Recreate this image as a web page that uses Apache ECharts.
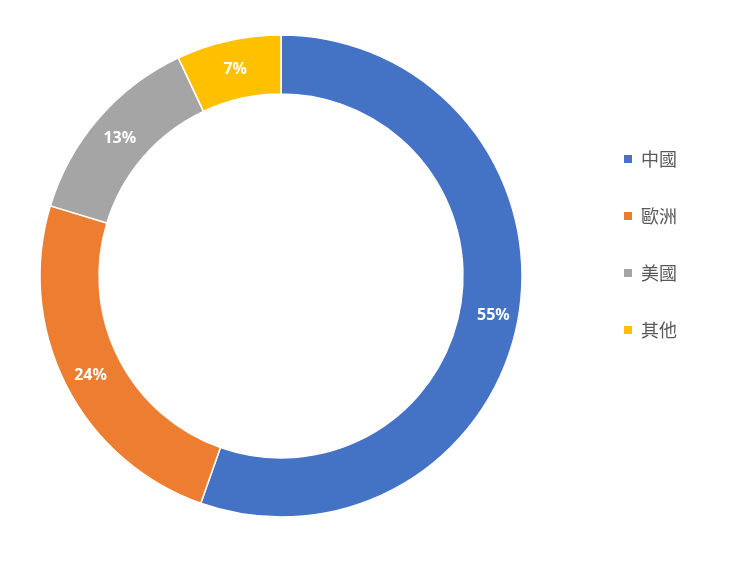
<!DOCTYPE html>
<html>
<head>
<meta charset="utf-8">
<style>
  html, body { margin: 0; padding: 0; background: #fff; }
  #chart { width: 742px; height: 567px; }
</style>
<script src="https://cdn.jsdelivr.net/npm/echarts@6/dist/echarts.min.js"></script>
</head>
<body>
<div id="chart"></div>
<script>
const regions = ['中國', '歐洲', '美國', '其他'];
const shares = [55.4, 24.3, 13.3, 7.0];
const colors = ['#4472C4', '#ED7D31', '#A5A5A5', '#FFC000'];

const chart = echarts.init(document.getElementById('chart'));

chart.setOption({
  animation: false,
  color: colors,
  legend: {
    orient: 'vertical',
    left: 622,
    top: 149,
    padding: 0,
    itemGap: 37,
    itemWidth: 10,
    itemHeight: 10,
    icon: 'rect',
    textStyle: {
      fontFamily: 'Noto Sans CJK TC',
      fontSize: 18,
      lineHeight: 20,
      color: '#595959',
      padding: [0, 0, 0, 3]
    },
    data: regions
  },
  series: [
    {
      type: 'pie',
      center: [281, 276],
      radius: [182, 241],
      startAngle: 90,
      clockwise: true,
      itemStyle: { borderColor: '#fff', borderWidth: 1.5 },
      label: {
        show: true,
        position: 'inside',
        color: '#fff',
        fontFamily: 'Noto Sans',
        fontWeight: 'bold',
        fontSize: 16,
        offset: [1, 3],
        formatter: (p) => Math.round(p.value) + '%'
      },
      labelLine: { show: false },
      emphasis: { disabled: true },
      data: regions.map((name, i) => ({ name, value: shares[i] }))
    }
  ]
});
</script>
</body>
</html>
